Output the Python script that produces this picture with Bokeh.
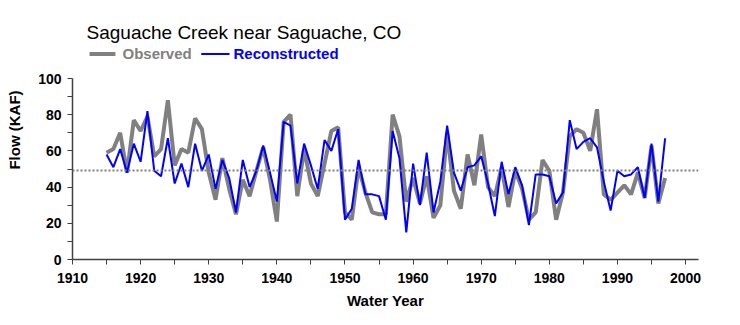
from bokeh.plotting import figure
from bokeh.models import Range1d, Label, FixedTicker, Span
from bokeh.embed import file_html
from bokeh.resources import INLINE

years = list(range(1915, 1998))
observed = [59, 61, 70, 48, 77, 71, 79, 57, 61, 88,
            52, 61, 59, 78, 72, 48, 33, 56, 39, 25,
            44, 35, 49, 62, 44, 21, 76, 80, 35, 61,
            42, 35, 53, 71, 73, 26, 22, 51, 37, 26,
            25, 25, 80, 68, 32, 45, 31, 46, 23, 30,
            70, 38, 28, 58, 41, 69, 40, 35, 51, 29,
            49, 39, 22, 26, 55, 49, 22, 37, 68, 72,
            70, 60, 83, 36, 33, 37, 41, 36, 48, 34,
            63, 31, 45]
reconstructed = [58, 51, 61, 48, 64, 54, 82, 49, 46, 67,
                 42, 53, 40, 64, 49, 58, 39, 55, 45, 26,
                 55, 40, 49, 63, 48, 32, 76, 74, 42, 64,
                 52, 39, 66, 60, 72, 22, 28, 55, 36, 36,
                 35, 22, 71, 56, 15, 53, 30, 59, 26, 43,
                 74, 48, 38, 51, 52, 57, 42, 24, 54, 36,
                 51, 41, 19, 47, 47, 46, 31, 37, 77, 61,
                 65, 67, 62, 43, 27, 49, 46, 47, 51, 34,
                 64, 32, 67]
mean_flow = 49.2
x_ticks = list(range(1910, 2001, 10))
x_minor = list(range(1915, 2000, 10))
y_ticks = [0, 20, 40, 60, 80, 100]
y_minor = [10, 30, 50, 70, 90]

FONT = "Liberation Sans"
GRAY = "#808080"
BLUE = "#0000FF"
AXC = "#404040"

p = figure(width=740, height=325, output_backend="svg", toolbar_location=None,
           x_range=Range1d(1910, 2001.9), y_range=Range1d(0, 143.1),
           min_border_left=72, min_border_right=42, min_border_top=0,
           min_border_bottom=66)
p.outline_line_color = None
p.xgrid.visible = False
p.ygrid.visible = False
p.background_fill_color = "white"
p.border_fill_color = "white"

# axes
p.xaxis.ticker = FixedTicker(ticks=x_ticks, minor_ticks=x_minor)
p.yaxis.ticker = FixedTicker(ticks=y_ticks, minor_ticks=y_minor)
p.yaxis.bounds = (0, 100)
for ax in (p.xaxis[0], p.yaxis[0]):
    ax.axis_line_color = AXC
    ax.axis_line_width = 1.5
    ax.major_tick_line_color = AXC
    ax.minor_tick_line_color = AXC
    ax.major_tick_in = 0
    ax.minor_tick_in = 0
    ax.major_tick_out = 5
    ax.minor_tick_out = 5
    ax.major_label_text_font = FONT
    ax.major_label_text_font_style = "bold"
    ax.major_label_text_font_size = "14px"
    ax.major_label_text_color = "black"
    ax.axis_label_text_font = FONT
    ax.axis_label_text_font_style = "bold"
    ax.axis_label_text_font_size = "15px"
    ax.axis_label_text_color = "black"
p.xaxis.major_label_standoff = 8
p.yaxis.major_label_standoff = 6
p.xaxis.axis_label = "Water Year"
p.yaxis.axis_label = "Flow (KAF)"
p.xaxis.axis_label_standoff = 6
p.yaxis.axis_label_standoff = 12

# mean line
p.add_layout(Span(location=mean_flow, dimension="width", line_color=GRAY,
                  line_width=2, line_dash="2 2"))

# series
p.line(years, observed, line_color=GRAY, line_width=4)
p.line(years, reconstructed, line_color=BLUE, line_width=2)

# title
p.add_layout(Label(x=1912.06, y=125.2, text="Saguache Creek near Saguache, CO",
                   text_font=FONT, text_font_size="19px", text_color="black",
                   text_baseline="alphabetic"))

# legend
ly = 113.6
p.line([1912.5, 1916.3], [ly, ly], line_color=GRAY, line_width=4)
p.add_layout(Label(x=1917.34, y=ly, text="Observed", text_font=FONT,
                   text_font_size="15px", text_font_style="bold",
                   text_color=GRAY, text_baseline="middle"))
p.line([1928.9, 1933.05], [ly, ly], line_color=BLUE, line_width=2)
p.add_layout(Label(x=1933.64, y=ly, text="Reconstructed", text_font=FONT,
                   text_font_size="15px", text_font_style="bold",
                   text_color=BLUE, text_baseline="middle"))

open("out.html", "w").write(file_html(p, INLINE))
